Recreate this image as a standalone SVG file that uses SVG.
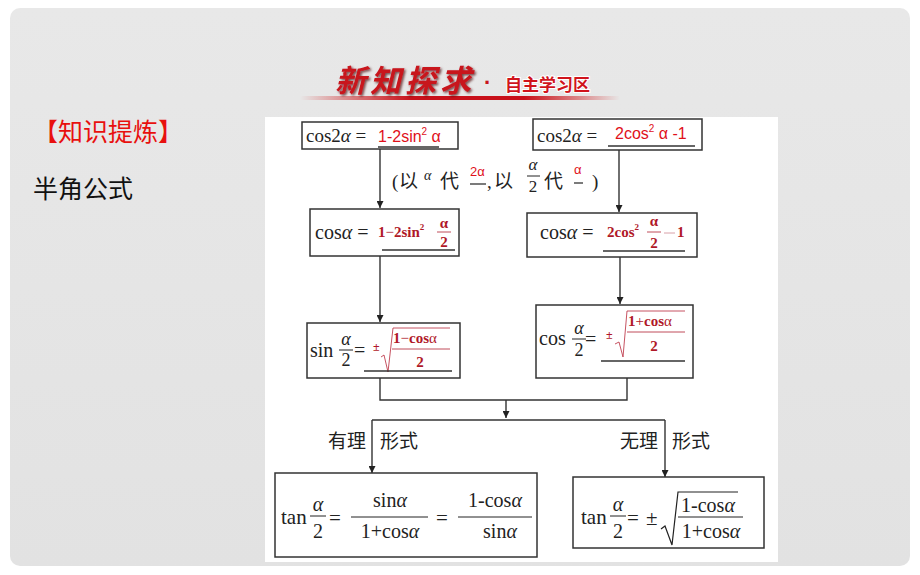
<svg xmlns="http://www.w3.org/2000/svg" width="920" height="575" viewBox="0 0 920 575">
<defs>
<linearGradient id="bg" x1="0" y1="0" x2="0" y2="1">
<stop offset="0" stop-color="#e8e8e8"/><stop offset="1" stop-color="#e2e2e2"/>
</linearGradient>
<linearGradient id="redline" x1="0" y1="0" x2="1" y2="0">
<stop offset="0" stop-color="#c00" stop-opacity="0"/>
<stop offset="0.35" stop-color="#c8101a"/>
<stop offset="0.7" stop-color="#c8101a"/>
<stop offset="1" stop-color="#c00" stop-opacity="0"/>
</linearGradient>
<filter id="sh" x="-10%" y="-10%" width="130%" height="140%">
<feDropShadow dx="1.5" dy="1.5" stdDeviation="0.8" flood-color="#400" flood-opacity="0.7"/>
</filter>
<marker id="arr" viewBox="0 0 10 10" refX="10" refY="5" markerWidth="7" markerHeight="7" orient="auto" markerUnits="userSpaceOnUse">
<path d="M0,0 L10,5 L0,10 Z" fill="#222"/>
</marker>
<style>
.box{fill:#fff;stroke:#333;stroke-width:1.5}
.ln{stroke:#333;stroke-width:1.4;fill:none}
.ul{stroke:#333;stroke-width:1.3}
.fl{stroke:#222;stroke-width:1}
.rfl{stroke:#b02030;stroke-width:0.8}
.s{font-family:"Liberation Serif","Times New Roman",serif;fill:#222}
.i{font-style:italic}
.r{fill:#e0101a;font-family:"Liberation Sans",Arial,sans-serif}
.dr{fill:#b01828;font-family:"Liberation Serif",serif;font-weight:bold}
.cn{font-family:"Noto Sans CJK SC","Noto Sans",sans-serif;fill:#222}
</style>
</defs>
<rect width="920" height="575" fill="#fff"/>
<rect x="10" y="8" width="900" height="558" rx="10" fill="url(#bg)"/>

<g id="title">
<rect x="300" y="96" width="320" height="4" fill="url(#redline)"/>
<text x="335" y="92" font-family="Noto Sans CJK SC,sans-serif" font-size="31" font-weight="bold" fill="#c8141c" filter="url(#sh)" letter-spacing="4" font-style="italic">新知探求</text>
<text x="484" y="90" font-family="Liberation Sans,sans-serif" font-size="22" font-weight="bold" fill="#c8141c">·</text>
<text x="505" y="91" font-family="Noto Sans CJK SC,sans-serif" font-size="17" font-weight="bold" fill="#d0141c" stroke="#fff" stroke-width="2" paint-order="stroke">自主学习区</text>
</g>

<g id="heading">
<text x="33" y="141" font-family="Noto Sans CJK SC,sans-serif" font-size="25" fill="#e8100e">【知识提炼】</text>
<text x="33" y="198" font-family="Noto Sans CJK SC,sans-serif" font-size="25" fill="#111">半角公式</text>
</g>

<rect x="265" y="117" width="513" height="445" fill="#fff"/>

<g id="connectors">
<line class="ln" x1="380" y1="148" x2="380" y2="208" marker-end="url(#arr)"/>
<line class="ln" x1="619" y1="150" x2="619" y2="212" marker-end="url(#arr)"/>
<line class="ln" x1="380" y1="256" x2="380" y2="322" marker-end="url(#arr)"/>
<line class="ln" x1="620" y1="257" x2="620" y2="304" marker-end="url(#arr)"/>
<polyline class="ln" points="380,378 380,400 627,400 627,378"/>
<line class="ln" x1="506" y1="400" x2="506" y2="418" marker-end="url(#arr)"/>
<line class="ln" x1="372" y1="420" x2="665" y2="420"/>
<line class="ln" x1="372" y1="420" x2="372" y2="473" marker-end="url(#arr)"/>
<line class="ln" x1="665" y1="420" x2="665" y2="477" marker-end="url(#arr)"/>
</g>

<g id="note">
<text class="s" x="392" y="188" font-size="19">(</text>
<text class="cn" x="399" y="188" font-size="19">以</text>
<text class="s i" x="424" y="180" font-size="14">α</text>
<text class="cn" x="440" y="188" font-size="19">代</text>
<text class="r" x="470" y="176" font-size="13">2α</text>
<line class="ul" x1="470" y1="184" x2="486" y2="184"/>
<text class="s" x="487" y="188" font-size="19">,</text>
<text class="cn" x="494" y="188" font-size="19">以</text>
<text class="s i" x="533" y="170" font-size="17" text-anchor="middle">α</text>
<line class="fl" x1="527" y1="176" x2="540" y2="176"/>
<text class="s" x="533" y="192" font-size="17" text-anchor="middle">2</text>
<text class="cn" x="544" y="188" font-size="19">代</text>
<text class="r" x="574" y="174" font-size="13">α</text>
<line class="ul" x1="574" y1="183" x2="583" y2="183"/>
<text class="s" x="592" y="188" font-size="19">)</text>
</g>

<g id="n1">
<rect class="box" x="302" y="122" width="156" height="27"/>
<text class="s" x="306" y="142" font-size="19">cos2<tspan class="i">α</tspan> =</text>
<text class="r" x="378" y="142" font-size="16">1-2sin<tspan font-size="10" dy="-7">2</tspan><tspan dy="7"> α</tspan></text>
<line class="ul" x1="378" y1="147" x2="439" y2="147"/>
</g>

<g id="n2">
<rect class="box" x="533" y="119" width="169" height="31"/>
<text class="s" x="537" y="142" font-size="19">cos2<tspan class="i">α</tspan> =</text>
<text class="r" x="615" y="139" font-size="16">2cos<tspan font-size="10" dy="-7">2</tspan><tspan dy="7"> α -1</tspan></text>
<line class="ul" x1="608" y1="146" x2="695" y2="146"/>
</g>

<g id="n3">
<rect class="box" x="310" y="209" width="149" height="47"/>
<text class="s" x="315" y="239" font-size="20">cos<tspan class="i">α</tspan> =</text>
<text class="dr" x="378" y="237" font-size="15">1<tspan font-weight="normal">−</tspan>2sin<tspan font-size="9" dy="-7">2</tspan></text>
<text class="dr" x="444" y="228" font-size="15" text-anchor="middle" font-weight="normal">α</text>
<line class="rfl" x1="437" y1="232" x2="451" y2="232"/>
<text class="dr" x="444" y="247" font-size="15" text-anchor="middle">2</text>
<line class="ul" x1="382" y1="250" x2="455" y2="250"/>
</g>

<g id="n4">
<rect class="box" x="527" y="213" width="170" height="44"/>
<text class="s" x="540" y="239" font-size="20">cos<tspan class="i">α</tspan> =</text>
<text class="dr" x="607" y="237" font-size="15">2cos<tspan font-size="9" dy="-7">2</tspan></text>
<text class="dr" x="654" y="226" font-size="15" text-anchor="middle" font-weight="normal">α</text>
<line class="rfl" x1="647" y1="232" x2="661" y2="232"/>
<text class="dr" x="654" y="248" font-size="15" text-anchor="middle">2</text>
<line x1="664" y1="233" x2="675" y2="233" stroke="#d8a0a8" stroke-width="1"/>
<text class="dr" x="677" y="237" font-size="15">1</text>
<line class="ul" x1="603" y1="251" x2="685" y2="251"/>
</g>

<g id="n5">
<rect class="box" x="307" y="323" width="153" height="55"/>
<text class="s" x="310" y="357" font-size="20">sin</text>
<text class="s i" x="346" y="345" font-size="18" text-anchor="middle">α</text>
<line class="fl" x1="339" y1="350" x2="353" y2="350"/>
<text class="s" x="346" y="366" font-size="18" text-anchor="middle">2</text>
<text class="s" x="354" y="357" font-size="20">=</text>
<text class="dr" x="373" y="351" font-size="12" font-weight="normal">±</text>
<path d="M381,357 L384,355 L388,372 L393,328 L450,328" fill="none" stroke="#c04050" stroke-width="0.9"/>
<text class="dr" x="393" y="343" font-size="15">1<tspan font-weight="normal">−</tspan>cos<tspan font-weight="normal">α</tspan></text>
<line class="rfl" x1="392" y1="349" x2="450" y2="349"/>
<text class="dr" x="420" y="367" font-size="15" text-anchor="middle">2</text>
<line class="ul" x1="364" y1="371" x2="452" y2="371"/>
</g>

<g id="n6">
<rect class="box" x="536" y="305" width="157" height="73"/>
<text class="s" x="539" y="345" font-size="20">cos</text>
<text class="s i" x="579" y="334" font-size="18" text-anchor="middle">α</text>
<line class="fl" x1="572" y1="339" x2="586" y2="339"/>
<text class="s" x="579" y="356" font-size="18" text-anchor="middle">2</text>
<text class="s" x="585" y="346" font-size="20">=</text>
<text class="dr" x="606" y="339" font-size="12" font-weight="normal">±</text>
<path d="M615,344 L619,342 L623,357 L627,311 L685,311" fill="none" stroke="#c04050" stroke-width="0.9"/>
<text class="dr" x="628" y="326" font-size="15">1<tspan font-weight="normal">+</tspan>cos<tspan font-weight="normal">α</tspan></text>
<line class="rfl" x1="627" y1="332" x2="685" y2="332"/>
<text class="dr" x="654" y="351" font-size="15" text-anchor="middle">2</text>
<line class="ul" x1="601" y1="361" x2="685" y2="361"/>
</g>

<g id="labels">
<text class="cn" x="328" y="448" font-size="19">有理</text>
<text class="cn" x="380" y="448" font-size="19">形式</text>
<text class="cn" x="620" y="448" font-size="19">无理</text>
<text class="cn" x="672" y="448" font-size="19">形式</text>
</g>

<g id="n7">
<rect class="box" x="275" y="473" width="262" height="84"/>
<text class="s" x="281" y="524" font-size="21">tan</text>
<text class="s i" x="318" y="511" font-size="20" text-anchor="middle">α</text>
<line class="fl" x1="310" y1="516" x2="326" y2="516"/>
<text class="s" x="318" y="538" font-size="20" text-anchor="middle">2</text>
<text class="s" x="329" y="525" font-size="21">=</text>
<text class="s" x="390" y="507" font-size="20" text-anchor="middle">sin<tspan class="i">α</tspan></text>
<line class="fl" x1="351" y1="517" x2="428" y2="517"/>
<text class="s" x="390" y="538" font-size="20" text-anchor="middle">1+cos<tspan class="i">α</tspan></text>
<text class="s" x="436" y="525" font-size="21">=</text>
<text class="s" x="495" y="507" font-size="20" text-anchor="middle">1-cos<tspan class="i">α</tspan></text>
<line class="fl" x1="458" y1="517" x2="532" y2="517"/>
<text class="s" x="500" y="538" font-size="20" text-anchor="middle">sin<tspan class="i">α</tspan></text>
</g>

<g id="n8">
<rect class="box" x="573" y="477" width="191" height="71"/>
<text class="s" x="581" y="524" font-size="21">tan</text>
<text class="s i" x="618" y="511" font-size="20" text-anchor="middle">α</text>
<line class="fl" x1="610" y1="516" x2="626" y2="516"/>
<text class="s" x="618" y="538" font-size="20" text-anchor="middle">2</text>
<text class="s" x="627" y="525" font-size="21">=</text>
<text class="s" x="646" y="525" font-size="21">±</text>
<path d="M661,529 L665,526 L672,545 L678,492 L738,492" fill="none" stroke="#222" stroke-width="1.2"/>
<text class="s" x="708" y="512" font-size="20" text-anchor="middle">1-cos<tspan class="i">α</tspan></text>
<line class="fl" x1="678" y1="517" x2="743" y2="517"/>
<text class="s" x="711" y="538" font-size="20" text-anchor="middle">1+cos<tspan class="i">α</tspan></text>
</g>
</svg>
